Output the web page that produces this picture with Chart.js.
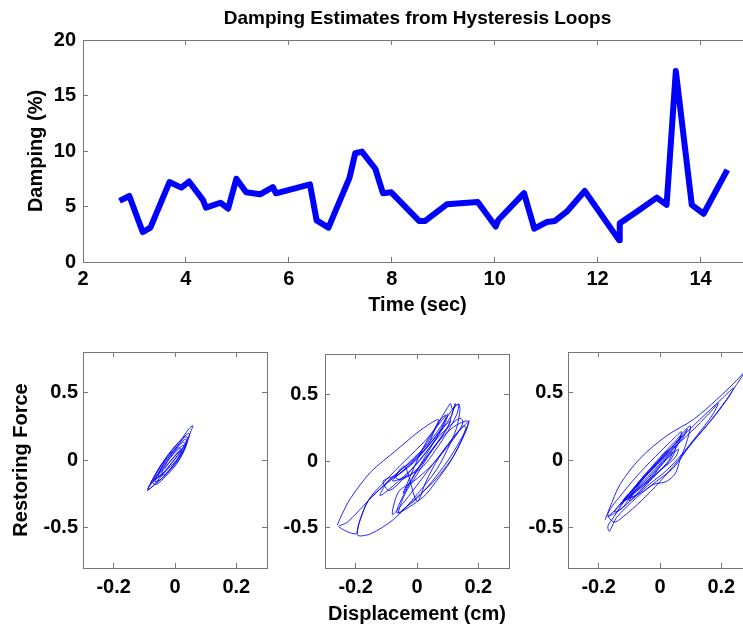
<!DOCTYPE html>
<html>
<head>
<meta charset="utf-8">
<title>Damping Estimates from Hysteresis Loops</title>
<script src="https://cdn.jsdelivr.net/npm/chart.js@4.4.1/dist/chart.umd.min.js"></script>
<style>
  html, body { margin: 0; padding: 0; background: #fff; overflow: hidden; }
  #fig { position: relative; width: 743px; height: 626px; overflow: hidden; background: #fff; }
  #fig canvas { position: absolute; }
</style>
</head>
<body>
<div id="fig">
  <canvas id="damping" width="770" height="320" style="left:0px;top:0px"></canvas>
  <canvas id="loopLow" width="280" height="296" style="left:0px;top:330px"></canvas>
  <canvas id="loopMid" width="260" height="296" style="left:260px;top:330px"></canvas>
  <canvas id="loopHigh" width="270" height="296" style="left:500px;top:330px"></canvas>
</div>
<script>
// damping estimate per window
const timeSec = [2.71, 2.90, 3.16, 3.31, 3.68, 3.91, 4.06, 4.33, 4.39, 4.67, 4.82, 4.98, 5.17, 5.44, 5.69, 5.75,
  6.41, 6.54, 6.77, 7.18, 7.29, 7.42, 7.68, 7.83, 7.99, 8.53, 8.65, 9.07, 9.67, 10.02, 10.07, 10.57, 10.77,
  11.01, 11.17, 11.40, 11.75, 12.42, 12.43, 12.76, 13.15, 13.34, 13.52, 13.83, 14.06, 14.52];
const dampingPct = [5.5, 5.95, 2.7, 3.1, 7.2, 6.7, 7.25, 5.6, 4.9, 5.34, 4.8, 7.5, 6.28, 6.1, 6.75, 6.19,
  7.0, 3.75, 3.1, 7.6, 9.8, 9.95, 8.4, 6.19, 6.28, 3.7, 3.7, 5.2, 5.4, 3.2, 3.78, 6.2, 3.0,
  3.6, 3.7, 4.53, 6.4, 1.95, 3.5, 4.53, 5.8, 5.14, 17.2, 5.14, 4.35, 8.3];

const timeTicks = [2, 4, 6, 8, 10, 12, 14];
const dampingTicks = [0, 5, 10, 15, 20];
const dispTicks = [-0.2, 0, 0.2];
const forceTicks = [-0.5, 0, 0.5];

// displacement (cm), restoring force pairs for the three windows
const loopsLow = [
  [-0.092, -0.230], [-0.075, -0.200], [-0.045, -0.120], [-0.015, -0.035], [0.015, 0.055], [0.040, 0.150], [0.052, 0.215], [0.058, 0.254],
  [0.045, 0.230], [0.020, 0.150], [-0.010, 0.070], [-0.040, -0.020], [-0.065, -0.110], [-0.085, -0.195], [-0.088, -0.220],
  [-0.070, -0.190], [-0.040, -0.130], [-0.005, -0.040], [0.025, 0.060], [0.043, 0.150], [0.047, 0.195], [0.035, 0.185],
  [0.010, 0.110], [-0.025, 0.020], [-0.055, -0.080], [-0.072, -0.170],
  [-0.060, -0.180], [-0.030, -0.120], [0.005, -0.030], [0.030, 0.070], [0.040, 0.140], [0.030, 0.150], [0.000, 0.080],
  [-0.030, -0.010], [-0.055, -0.100], [-0.065, -0.160],
  [-0.045, -0.140], [-0.010, -0.060], [0.020, 0.030], [0.035, 0.120], [0.025, 0.130], [-0.005, 0.060], [-0.040, -0.040], [-0.055, -0.120],
  [-0.030, -0.100], [0.000, -0.020], [0.022, 0.070], [0.012, 0.090], [-0.015, 0.020], [-0.040, -0.070], [-0.045, -0.110],
  [-0.070, -0.150], [-0.035, -0.090], [0.005, 0.000], [0.030, 0.090], [0.040, 0.170], [0.025, 0.160], [-0.005, 0.090],
  [-0.035, 0.000], [-0.060, -0.090], [-0.080, -0.180], [-0.090, -0.215],
  [-0.075, -0.170], [-0.040, -0.100], [-0.010, -0.020], [0.015, 0.050], [0.030, 0.110], [0.020, 0.100], [-0.010, 0.030],
  [-0.035, -0.040], [-0.060, -0.120], [-0.050, -0.090], [-0.020, -0.020], [0.005, 0.040], [0.020, 0.080], [0.010, 0.060],
  [-0.015, -0.010], [-0.040, -0.080], [-0.065, -0.130], [-0.080, -0.165]
];
const loopsMid = [
  [-0.260, -0.480], [-0.245, -0.400], [-0.217, -0.280], [-0.152, -0.085], [-0.065, 0.085], [0.000, 0.210], [0.043, 0.280], [0.070, 0.310],
  [0.060, 0.250], [0.033, 0.110], [-0.022, -0.010], [-0.087, -0.133], [-0.160, -0.300], [-0.228, -0.460], [-0.255, -0.490],
  [-0.200, -0.545], [-0.190, -0.470], [-0.160, -0.300], [-0.100, -0.170], [-0.030, -0.020], [0.040, 0.140], [0.090, 0.300],
  [0.120, 0.400], [0.136, 0.425], [0.140, 0.380], [0.130, 0.254], [0.109, 0.134], [0.065, -0.060], [-0.011, -0.280],
  [-0.076, -0.436], [-0.152, -0.545], [-0.195, -0.550],
  [-0.160, -0.300], [-0.100, -0.140], [-0.040, 0.000], [0.030, 0.160], [0.080, 0.300], [0.100, 0.350], [0.090, 0.280],
  [0.050, 0.130], [0.000, -0.020], [-0.060, -0.150], [-0.120, -0.260],
  [-0.100, -0.170], [-0.060, -0.100], [0.000, 0.020], [0.060, 0.180], [0.110, 0.330], [0.125, 0.430], [0.115, 0.360],
  [0.100, 0.250], [0.050, 0.080], [0.000, -0.060], [-0.050, -0.140], [-0.070, -0.120], [-0.040, -0.040],
  [0.000, -0.300], [0.030, -0.150], [0.070, 0.020], [0.120, 0.180], [0.160, 0.280], [0.170, 0.300], [0.150, 0.180],
  [0.110, 0.000], [0.060, -0.160], [0.020, -0.270],
  [-0.065, -0.387], [-0.033, -0.206], [0.011, -0.036], [0.065, 0.134], [0.119, 0.254], [0.160, 0.300], [0.168, 0.290],
  [0.155, 0.200], [0.119, 0.036], [0.075, -0.100], [0.043, -0.180], [-0.022, -0.315], [-0.060, -0.390],
  [-0.040, -0.250], [0.000, -0.100], [0.040, 0.050], [0.090, 0.220], [0.110, 0.300], [0.090, 0.260], [0.050, 0.120],
  [0.010, -0.030], [-0.030, -0.180], [-0.045, -0.240],
  [0.020, 0.100], [0.060, 0.250], [0.100, 0.400], [0.109, 0.430], [0.115, 0.390], [0.125, 0.410], [0.136, 0.425],
  [0.130, 0.350], [0.100, 0.220], [0.060, 0.080], [0.020, -0.040], [-0.020, -0.100],
  [-0.080, -0.150], [-0.040, -0.060], [0.010, 0.060], [0.050, 0.200], [0.080, 0.320], [0.095, 0.340], [0.080, 0.250],
  [0.040, 0.120], [-0.010, -0.010], [-0.060, -0.100], [-0.110, -0.150],
  [-0.090, -0.220], [-0.040, -0.120], [0.020, 0.040], [0.070, 0.180], [0.110, 0.270], [0.140, 0.320], [0.150, 0.290],
  [0.130, 0.200], [0.090, 0.080], [0.040, -0.050], [-0.010, -0.150], [-0.060, -0.230],
  [-0.080, -0.400], [-0.040, -0.300], [0.010, -0.150], [0.060, 0.000], [0.110, 0.150], [0.150, 0.260], [0.160, 0.250],
  [0.140, 0.150], [0.100, 0.000], [0.050, -0.150], [0.000, -0.280], [-0.050, -0.370]
];
const loopsHigh = [
  [-0.179, -0.443], [-0.165, -0.360], [-0.130, -0.180], [-0.065, 0.012], [0.022, 0.180], [0.109, 0.300], [0.185, 0.448],
  [0.250, 0.590], [0.290, 0.690], [0.280, 0.660], [0.250, 0.560], [0.217, 0.448], [0.152, 0.254], [0.098, 0.109],
  [0.043, -0.060], [-0.011, -0.157], [-0.076, -0.278], [-0.141, -0.424], [-0.165, -0.528],
  [-0.170, -0.490], [-0.150, -0.420], [-0.100, -0.250], [-0.030, -0.060], [0.050, 0.120], [0.130, 0.300], [0.200, 0.450],
  [0.239, 0.533], [0.225, 0.470], [0.180, 0.330], [0.120, 0.170], [0.060, 0.000], [0.000, -0.160], [-0.060, -0.300],
  [-0.120, -0.420], [-0.150, -0.460],
  [-0.170, -0.400], [-0.120, -0.240], [-0.060, -0.080], [0.000, 0.060], [0.050, 0.170], [0.070, 0.210], [0.060, 0.140],
  [0.020, 0.020], [-0.030, -0.100], [-0.090, -0.240], [-0.140, -0.360], [-0.170, -0.420],
  [-0.120, -0.350], [-0.080, -0.200], [-0.020, -0.050], [0.050, 0.100], [0.120, 0.250], [0.170, 0.370], [0.190, 0.420],
  [0.170, 0.330], [0.120, 0.180], [0.070, 0.040], [0.020, -0.080], [-0.040, -0.190], [-0.090, -0.290],
  [-0.100, -0.300], [-0.050, -0.120], [0.000, 0.020], [0.050, 0.140], [0.090, 0.240], [0.100, 0.250], [0.085, 0.120],
  [0.065, 0.000], [0.050, -0.100], [0.020, -0.160], [-0.020, -0.180], [-0.060, -0.240],
  [-0.120, -0.300], [-0.070, -0.180], [-0.020, -0.050], [0.020, 0.060], [0.050, 0.100], [0.040, 0.020], [0.000, -0.080],
  [-0.050, -0.180], [-0.100, -0.280],
  [-0.080, -0.260], [-0.030, -0.140], [0.010, -0.020], [0.040, 0.060], [0.030, 0.000], [-0.010, -0.100], [-0.060, -0.220],
  [-0.110, -0.330], [-0.140, -0.380],
  [-0.150, -0.380], [-0.100, -0.250], [-0.050, -0.110], [0.000, 0.000], [0.040, 0.100], [0.080, 0.200], [0.090, 0.230],
  [0.070, 0.150], [0.030, 0.050], [-0.020, -0.060], [-0.070, -0.170], [-0.120, -0.300],
  [-0.060, -0.200], [-0.020, -0.100], [0.020, 0.000], [0.060, 0.080], [0.050, 0.020], [0.010, -0.060], [-0.040, -0.150],
  [-0.130, -0.330], [-0.090, -0.230], [-0.040, -0.100], [0.010, 0.020], [0.050, 0.120], [0.070, 0.180], [0.050, 0.080],
  [0.000, -0.040], [-0.050, -0.160], [-0.100, -0.270]
];

const FONT = '"Liberation Sans", Arial, Helvetica, sans-serif';
const frameColor = '#767676';
Chart.defaults.font.family = FONT;
Chart.defaults.font.weight = 'bold';
Chart.defaults.font.size = 20;
Chart.defaults.color = '#000';

// axis with ticks pointing into the plot box, MATLAB style
function axis(position, range, tickValues, size, pad, title, titlePad, showBorder) {
  const mirror = position === 'top' || position === 'right';
  return {
    type: 'linear',
    position: position,
    min: range[0],
    max: range[1],
    afterBuildTicks: s => { s.ticks = tickValues.map(v => ({ value: v })); },
    afterFit: s => { if (s.isHorizontal()) s.height = size; else s.width = size; },
    grid: { drawOnChartArea: false, drawTicks: true, tickLength: -5, color: frameColor, lineWidth: 1 },
    border: { display: showBorder !== false, color: frameColor, width: 1 },
    ticks: { display: !mirror, padding: pad, callback: v => String(v) },
    title: title ? { display: true, text: title, padding: titlePad, font: { size: 20, weight: 'bold' } } : { display: false }
  };
}

const topTitle = {
  id: 'topTitle',
  afterDraw(chart, args, opts) {
    if (!opts.text) return;
    const { ctx, chartArea } = chart;
    ctx.save();
    ctx.font = 'bold 19px ' + FONT;
    ctx.fillStyle = '#000';
    ctx.textAlign = 'center';
    ctx.textBaseline = 'middle';
    ctx.fillText(opts.text, (chartArea.left + chartArea.right) / 2, chartArea.top - 21);
    ctx.restore();
  }
};

const common = {
  responsive: false,
  animation: false,
  events: [],
  plugins: { legend: { display: false }, tooltip: { enabled: false } }
};

new Chart(document.getElementById('damping'), {
  type: 'scatter',
  data: {
    datasets: [{
      data: timeSec.map((t, i) => ({ x: t, y: dampingPct[i] })),
      showLine: true,
      borderColor: '#0000ff',
      borderWidth: 6,
      borderJoinStyle: 'round',
      pointRadius: 0,
      tension: 0
    }]
  },
  options: Object.assign({}, common, {
    layout: { padding: { top: 40, right: 18, left: 0, bottom: 0 } },
    plugins: Object.assign({}, common.plugins, { topTitle: { text: 'Damping Estimates from Hysteresis Loops' } }),
    scales: {
      x: axis('bottom', [2, 15], timeTicks, 58, 10, 'Time (sec)', { top: 0, bottom: 3 }),
      y: axis('left', [0, 20], dampingTicks, 83, 12, 'Damping (%)', { top: 24, bottom: 0 }),
      x2: axis('top', [2, 15], timeTicks, 0, 0),
      y2: axis('right', [0, 20], dampingTicks, 0, 0, null, null, false)
    }
  }),
  plugins: [topTitle]
});

function loopChart(id, points, yWidth, yPad, rightPad, yTitle, xTitle, rightFrame) {
  new Chart(document.getElementById(id), {
    type: 'scatter',
    data: {
      datasets: [{
        data: points.map(p => ({ x: p[0], y: p[1] })),
        showLine: true,
        borderColor: 'rgba(0,0,255,0.85)',
        borderWidth: 1,
        pointRadius: 0,
        tension: 0.3
      }]
    },
    options: Object.assign({}, common, {
      layout: { padding: { top: 16, right: rightPad, left: 0, bottom: 0 } },
      scales: {
        x: axis('bottom', [-0.3, 0.3], dispTicks, 58, 12, xTitle, { top: 0, bottom: 0 }),
        y: axis('left', [-0.8, 0.8], forceTicks, yWidth, yPad, yTitle, { top: 9, bottom: 0 }),
        x2: axis('top', [-0.3, 0.3], dispTicks, 0, 0),
        y2: axis('right', [-0.8, 0.8], forceTicks, 0, 0, null, null, rightFrame)
      }
    })
  });
}

loopChart('loopLow', loopsLow, 83, 10, 13, 'Restoring Force', null, true);
loopChart('loopMid', loopsMid, 65, 12, 11, null, 'Displacement (cm)', true);
loopChart('loopHigh', loopsHigh, 68, 10, 18, null, null, false);
</script>
</body>
</html>
